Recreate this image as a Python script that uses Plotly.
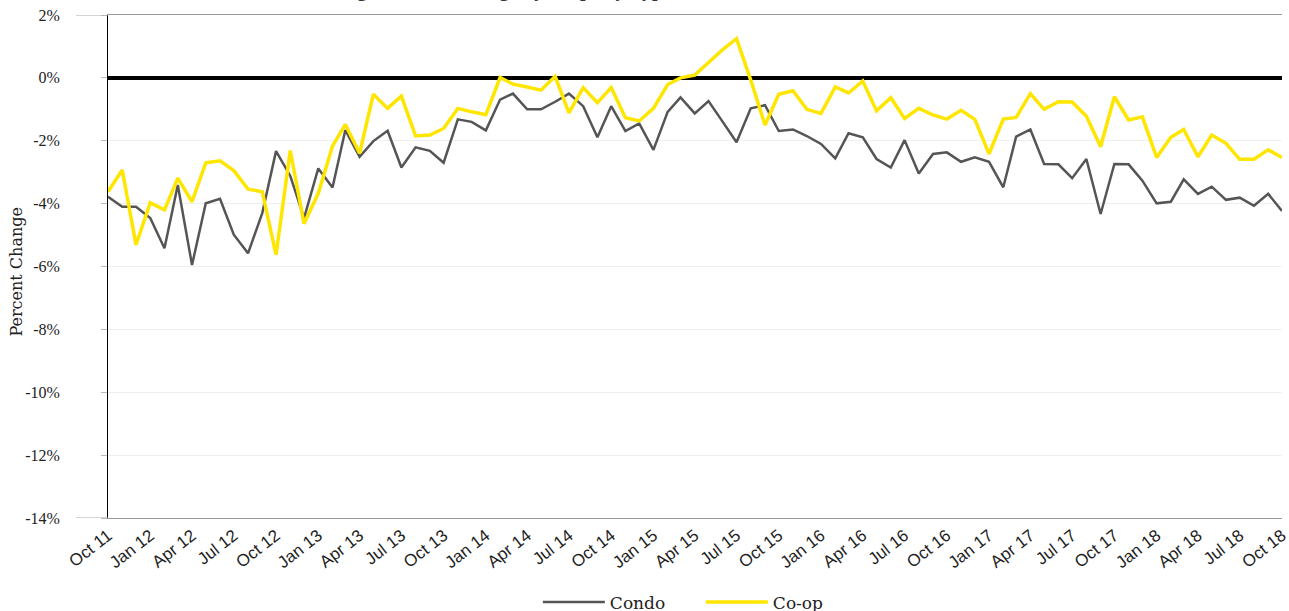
import plotly.graph_objects as go
import pandas as pd

months = pd.date_range("2011-10-01", "2018-10-01", freq="MS")

condo = [-3.78, -4.10, -4.10, -4.46, -5.42, -3.41, -5.95, -3.99, -3.85, -4.99,
         -5.58, -4.30, -2.33, -3.12, -4.46, -2.88, -3.49, -1.66, -2.51, -2.01,
         -1.68, -2.85, -2.21, -2.32, -2.70, -1.32, -1.40, -1.67, -0.69, -0.50,
         -1.00, -1.00, -0.76, -0.50, -0.90, -1.89, -0.90, -1.69, -1.45, -2.29,
         -1.08, -0.62, -1.13, -0.74, -1.40, -2.05, -0.97, -0.87, -1.69, -1.64,
         -1.85, -2.10, -2.56, -1.76, -1.89, -2.58, -2.85, -1.98, -3.04, -2.42,
         -2.37, -2.67, -2.53, -2.67, -3.48, -1.87, -1.64, -2.74, -2.75, -3.19,
         -2.58, -4.33, -2.74, -2.75, -3.27, -3.99, -3.94, -3.23, -3.69, -3.46,
         -3.88, -3.81, -4.07, -3.69, -4.23]

coop = [-3.62, -2.93, -5.31, -3.97, -4.20, -3.19, -3.94, -2.70, -2.64, -2.95,
        -3.54, -3.62, -5.63, -2.31, -4.64, -3.67, -2.17, -1.48, -2.40, -0.52,
        -0.97, -0.58, -1.85, -1.82, -1.61, -0.97, -1.08, -1.17, 0.01, -0.20,
        -0.29, -0.39, 0.05, -1.11, -0.31, -0.79, -0.31, -1.27, -1.37, -0.97,
        -0.21, 0.00, 0.09, 0.48, 0.90, 1.25, -0.07, -1.50, -0.52, -0.41,
        -1.00, -1.13, -0.29, -0.48, -0.10, -1.05, -0.63, -1.29, -0.97, -1.18,
        -1.31, -1.03, -1.32, -2.42, -1.31, -1.26, -0.50, -1.00, -0.76, -0.77,
        -1.22, -2.19, -0.60, -1.34, -1.24, -2.53, -1.89, -1.64, -2.51, -1.82,
        -2.08, -2.59, -2.59, -2.29, -2.53]

y_tickvals = [2, 0, -2, -4, -6, -8, -10, -12, -14]
y_ticktext = ["2%", "0%", "-2%", "-4%", "-6%", "-8%", "-10%", "-12%", "-14%"]

title_text = "Listing Discount Change by Property Type"
y_title = "Percent Change"

serif = "Liberation Serif, Times New Roman, serif"
wide_serif = "DejaVu Serif, Georgia, serif"
sans = "Liberation Sans, Arial, sans-serif"

fig = go.Figure()
fig.add_trace(go.Scatter(x=months, y=condo, mode="lines", name="Condo",
                         line=dict(color="#555555", width=2.5)))
fig.add_trace(go.Scatter(x=months, y=coop, mode="lines", name="Co-op",
                         line=dict(color="#FFE600", width=3.5)))

frame_ext = [
    dict(type="line", xref="paper", yref="y", x0=-0.0273, x1=0, y0=v, y1=v,
         line=dict(color="#AAAAAA", width=1))
    for v in (y_tickvals[0], y_tickvals[-1])
]

fig.update_layout(
    width=1289, height=611,
    margin=dict(l=108, r=7, t=15, b=93, autoexpand=False),
    paper_bgcolor="white", plot_bgcolor="white",
    showlegend=True,
    legend=dict(orientation="h", x=0.505, xanchor="center", y=-0.168, yanchor="middle",
                font=dict(family=wide_serif, size=17, color="#222222"),
                itemwidth=62, entrywidth=86, entrywidthmode="pixels"),
    xaxis=dict(
        range=[months[0], months[-1] + pd.Timedelta(hours=2)],
        dtick="M3", tick0="2011-10-01", tickformat="%b %y",
        tickangle=-38, tickfont=dict(family=sans, size=17, color="#222222"),
        ticklabeloverflow="allow",
        showgrid=False, zeroline=False,
        showline=True, linecolor="#999999", linewidth=1, mirror=True,
        ticks="",
    ),
    yaxis=dict(
        range=[-14, 2], tickvals=y_tickvals, ticktext=y_ticktext,
        tickfont=dict(family=serif, size=16, color="#222222"),
        showgrid=True, gridcolor="#EFEFEF", gridwidth=1,
        zeroline=True, zerolinecolor="black", zerolinewidth=4,
        showline=True, linecolor="black", linewidth=1,
        ticks="outside", ticklen=6, tickcolor="#BBBBBB",
        ticklabelstandoff=38,
    ),
    shapes=frame_ext,
    annotations=[
        dict(text=y_title, xref="paper", yref="paper", x=-0.0775, y=0.49,
             xanchor="center", yanchor="middle", textangle=-90, showarrow=False,
             font=dict(family=wide_serif, size=16, color="#222222")),
        dict(text="<b>" + title_text + "</b>", xref="paper", yref="paper",
             x=0.325, y=1.0239, xanchor="center", yanchor="bottom", showarrow=False,
             font=dict(family=serif, size=20, color="#333333")),
    ],
)

fig.write_html("out.html", config={"displayModeBar": False},
               post_script="document.body.style.margin='0';")
